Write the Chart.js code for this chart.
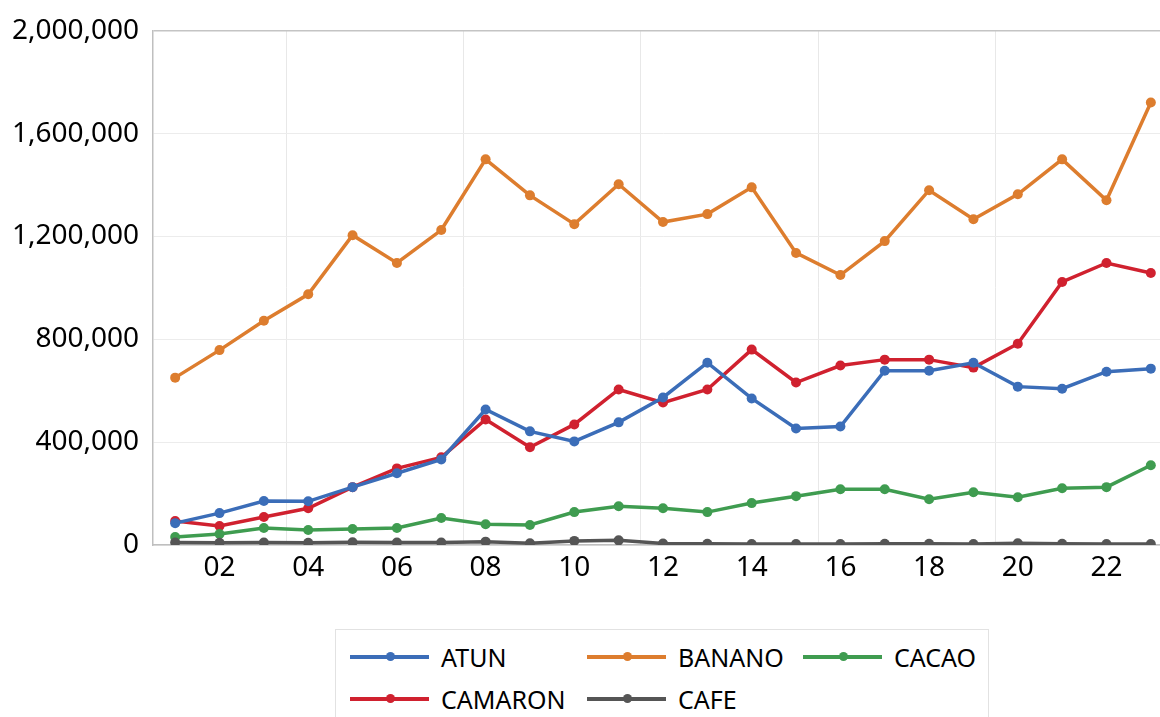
<!DOCTYPE html>
<html>
<head>
<meta charset="utf-8">
<script src="https://cdn.jsdelivr.net/npm/chart.js@4"></script>
<style>
  body { margin: 0; background: #fff; overflow: hidden; width: 1160px; height: 717px; position: relative; }
  #wrap { position: absolute; left: 0; top: 0; }
  #legend {
    position: absolute; left: 335px; top: 629px; width: 654px; height: 120px;
    border: 1px solid #e2e2e2; box-sizing: border-box;
    font-family: "Noto Sans", sans-serif; font-size: 25px; color: #000;
  }
  .item { position: absolute; height: 30px; line-height: 30px; white-space: nowrap; }
  .sw { position: absolute; left: 0; top: 13px; width: 79px; height: 4px; }
  .dot { position: absolute; left: 36px; top: -3px; width: 9px; height: 9px; border-radius: 50%; }
  .txt { position: absolute; left: 91px; top: 0; }
</style>
</head>
<body>
<div id="wrap"><canvas id="chart" width="1180" height="600"></canvas></div>
<div id="legend"></div>
<script>
const years = ['01','02','03','04','05','06','07','08','09','10','11','12','13','14','15','16','17','18','19','20','21','22','23']

const atun    = [85000,124000,171000,170000,225000,279000,333000,527000,442000,403000,477000,574000,709000,570000,453000,461000,678000,678000,709000,616000,608000,674000,686000]
const banano  = [651000,758000,872000,975000,1205000,1097000,1225000,1500000,1360000,1248000,1403000,1256000,1287000,1391000,1136000,1050000,1182000,1380000,1267000,1364000,1500000,1341000,1721000]
const cacao   = [31000,43000,66000,58000,62000,66000,105000,81000,78000,128000,151000,143000,128000,163000,190000,217000,217000,178000,205000,186000,221000,225000,310000]
const camaron = [93000,74000,109000,143000,225000,298000,341000,488000,380000,469000,605000,554000,605000,760000,632000,698000,721000,721000,690000,783000,1023000,1097000,1058000]
const cafe    = [10000,9000,10000,9000,11000,10000,10000,13000,7000,16000,18000,6000,5000,4000,4000,4000,5000,5000,4000,7000,5000,4000,4000]

const yTicks = [0, 400000, 800000, 1200000, 1600000, 2000000]

const colors = {
    ATUN: '#3b6db8',
    BANANO: '#dd7d2e',
    CACAO: '#3f9c50',
    CAMARON: '#d0212f',
    CAFE: '#555555'
}

function serie(label, data) {
    return {
        label: label,
        data: data,
        borderColor: colors[label],
        backgroundColor: colors[label],
        borderWidth: 3.5,
        pointRadius: 5,
        pointHoverRadius: 5,
        pointBorderWidth: 0,
        tension: 0
    }
}

const font = { family: '"Noto Sans", sans-serif', size: 28 }

const chart = new Chart(document.getElementById('chart'), {
    type: 'line',
    data: {
        labels: years,
        datasets: [
            serie('CAFE', cafe),
            serie('CACAO', cacao),
            serie('ATUN', atun),
            serie('CAMARON', camaron),
            serie('BANANO', banano)
        ]
    },
    options: {
        responsive: false,
        animation: false,
        layout: { padding: { left: 12, right: 7, top: 29, bottom: 0 } },
        plugins: { legend: { display: false }, tooltip: { enabled: false } },
        scales: {
            x: {
                type: 'category',
                offset: true,
                afterFit: s => { s.height = 55 },
                grid: {
                    offset: true,
                    drawTicks: false,
                    color: ctx => (ctx.index % 4 === 3 ? '#e8e8e8' : 'rgba(0,0,0,0)'),
                    lineWidth: 1
                },
                border: { color: '#bfbfbf', width: 1.5 },
                ticks: {
                    font: font,
                    color: '#000',
                    padding: 6,
                    autoSkip: false,
                    maxRotation: 0,
                    callback: function (v, i) { return i % 2 === 1 ? years[i] : '' }
                }
            },
            y: {
                min: 0,
                max: 2000000,
                afterFit: s => { s.width = 141 },
                afterBuildTicks: s => { s.ticks = yTicks.map(v => ({ value: v })) },
                grid: {
                    drawTicks: false,
                    color: ctx => (ctx.tick && ctx.tick.value === 2000000 ? '#c4c4c4' : '#ececec'),
                    lineWidth: ctx => (ctx.tick && ctx.tick.value === 2000000 ? 1.5 : 1)
                },
                border: { color: '#bfbfbf', width: 1.5 },
                ticks: {
                    font: font,
                    color: '#000',
                    padding: 14,
                    callback: v => v.toLocaleString('en-US')
                }
            }
        }
    }
})

// legend laid out like the original (3 columns, 2 rows)
const order = ['ATUN', 'BANANO', 'CACAO', 'CAMARON', 'CAFE']
const colX = [14, 251, 467]
const rowY = [12, 54]
const legend = document.getElementById('legend')
order.forEach((name, i) => {
    const el = document.createElement('div')
    el.className = 'item'
    el.style.left = colX[i % 3] + 'px'
    el.style.top = rowY[Math.floor(i / 3)] + 'px'
    el.innerHTML = '<div class="sw" style="background:' + colors[name] + '"><div class="dot" style="background:' + colors[name] + '"></div></div><span class="txt">' + name + '</span>'
    legend.appendChild(el)
})
</script>
</body>
</html>
